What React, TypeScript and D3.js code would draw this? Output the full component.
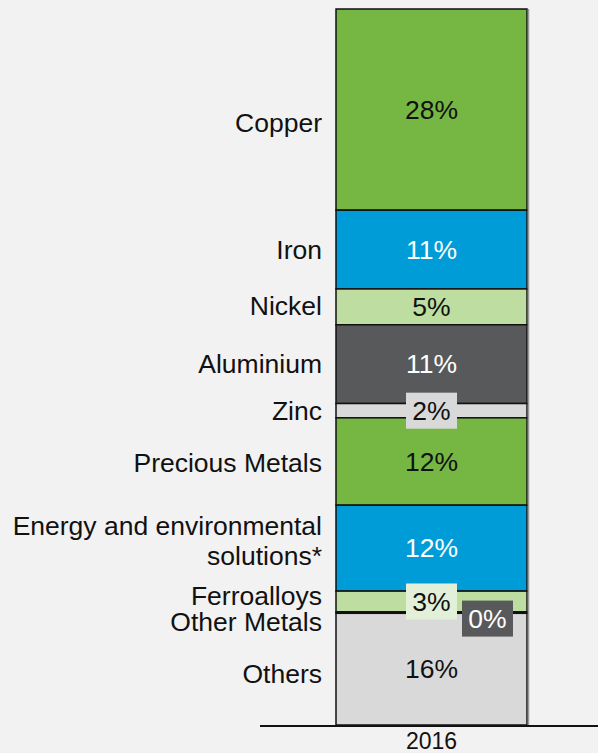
import React from "react";
import * as d3 from "d3";

const categories = ["Copper", "Iron", "Nickel", "Aluminium", "Zinc", "Precious Metals", "Energy and environmental|solutions*", "Ferroalloys", "Other Metals", "Others"];
const values = [28.1, 11.0, 5.0, 11.0, 2.0, 12.2, 12.0, 2.9, 0.2, 15.6];
const valueLabels = ["28%", "11%", "5%", "11%", "2%", "12%", "12%", "3%", "0%", "16%"];
const year = "2016";

const fills = ["#76b744", "#009cd8", "#bedda1", "#58595b", "#d9d9d9", "#76b744", "#009cd8", "#bedda1", "#58595b", "#d9d9d9"];
const textColors = ["#111", "#fff", "#111", "#fff", "#111", "#111", "#fff", "#111", "#fff", "#111"];
// label boxes for thin segments: [dx, dy, boxFill] or null
const boxes: (null | [number, number, string])[] = [null, null, null, null, [0, 0, "#d9d9d9"], null, null, [0, 0, "#e2f0d9"], [56, 6, "#58595b"], null];
const catNudge = [13, 0, -1, 0, 0, 1, -7, -6, 9, 5];

export default function App() {
  const W = 598, H = 753;
  const x0 = 336, x1 = 527;
  const y = d3.scaleLinear().domain([0, 100]).range([725, 9]);
  const stack: { start: number; end: number }[] = [];
  let acc = 100;
  values.forEach((v) => {
    stack.push({ start: acc, end: acc - v });
    acc -= v;
  });
  const cx = (x0 + x1) / 2;
  const font = "'Liberation Sans', Arial, sans-serif";
  const fs = 26.5;
  return (
    <svg width={W} height={H} style={{ position: "absolute", left: 0, top: 0, background: "#f2f2f2" }}>
      <rect x={0} y={0} width={W} height={H} fill="#f2f2f2" />
      {stack.map((s, i) => (
        <rect key={"r" + i} x={x0} y={y(s.start)} width={x1 - x0} height={y(s.end) - y(s.start)} fill={fills[i]} stroke="#111" strokeWidth={1.5} />
      ))}
      <line x1={528.5} x2={528.5} y1={y(100)} y2={y(0)} stroke="#9a9a9a" strokeWidth={1.5} />
      <line x1={260} x2={598} y1={726} y2={726} stroke="#111" strokeWidth={1.8} />
      <text x={cx} y={749} textAnchor="middle" fontFamily={font} fontSize={23} fill="#111">{year}</text>
      {stack.map((s, i) => {
        const cy = (y(s.start) + y(s.end)) / 2;
        const b = boxes[i];
        const tx = cx + (b ? b[0] : 0);
        const ty = cy + (b ? b[1] : 0);
        return (
          <g key={"v" + i}>
            {b && <rect x={tx - 25.5} y={ty - 18} width={51} height={36} fill={b[2]} />}
            <text x={tx} y={ty} dy="0.35em" textAnchor="middle" fontFamily={font} fontSize={fs} fill={textColors[i]}>{valueLabels[i]}</text>
          </g>
        );
      })}
      {stack.map((s, i) => {
        const cy = (y(s.start) + y(s.end)) / 2 + catNudge[i];
        const lines = categories[i].split("|");
        const lh = 30;
        return (
          <text key={"c" + i} x={322} y={cy - ((lines.length - 1) * lh) / 2} textAnchor="end" fontFamily={font} fontSize={fs} fill="#111">
            {lines.map((l, j) => (
              <tspan key={j} x={322} dy={j === 0 ? "0.35em" : lh}>{l}</tspan>
            ))}
          </text>
        );
      })}
    </svg>
  );
}
